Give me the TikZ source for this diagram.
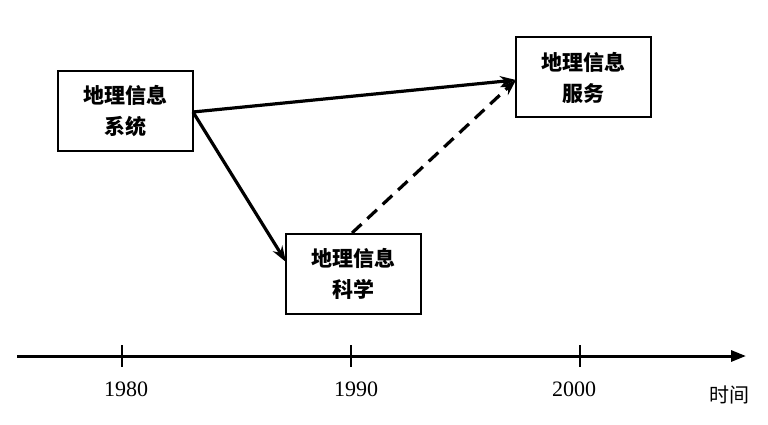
\documentclass[tikz,border=0pt]{standalone}
\usepackage{fontspec}
\setmainfont{Liberation Serif}
\newfontfamily\cjk{Noto Sans CJK SC}
\usetikzlibrary{arrows.meta}
\begin{document}
\begin{tikzpicture}[x=1pt,y=-1pt,
  box/.style={draw,line width=2pt,minimum width=135pt,minimum height=80pt,inner sep=0pt,
    align=center,font=\cjk\bfseries\fontsize{21}{31}\selectfont},
  link/.style={line width=3.2pt,-{Stealth[length=16pt,width=11pt]}},
  dlink/.style={link,dash pattern=on 13pt off 8pt},
  year/.style={font=\fontsize{22}{26}\selectfont}]
\useasboundingbox[fill=white] (0,0) rectangle (768,425);
\node[box] (gis) at (125,111) {地理信息\\系统};
\node[box] (gisci) at (353.5,273.5) {地理信息\\科学};
\node[box] (giserv) at (583.5,77.5) {地理信息\\服务};
\coordinate (s1) at (193,112);
\coordinate (t1) at (516,80);
\coordinate (t2) at (286,262);
\coordinate (s3) at (352,233);
\draw[link] (s1) -- (t1);
\draw[link] (s1) -- (t2);
\draw[dlink] (s3) -- (t1);
% time axis
\coordinate (axL) at (17,356);
\coordinate (axR) at (746,356);
\draw[line width=3pt,-{Triangle[length=15pt,width=11pt]}] (axL) -- (axR);
\foreach \x/\n in {122/a,351/b,580/c}{
  \coordinate (tt\n) at (\x,345);
  \coordinate (tb\n) at (\x,367);
  \draw[line width=1.5pt] (tt\n) -- (tb\n);
}
\node[year] (y1) at (126,389) {1980};
\node[year] (y2) at (356,389) {1990};
\node[year] (y3) at (574,389) {2000};
\node[font=\cjk\fontsize{20}{24}\selectfont] (time) at (729,395) {时间};
\end{tikzpicture}
\end{document}
